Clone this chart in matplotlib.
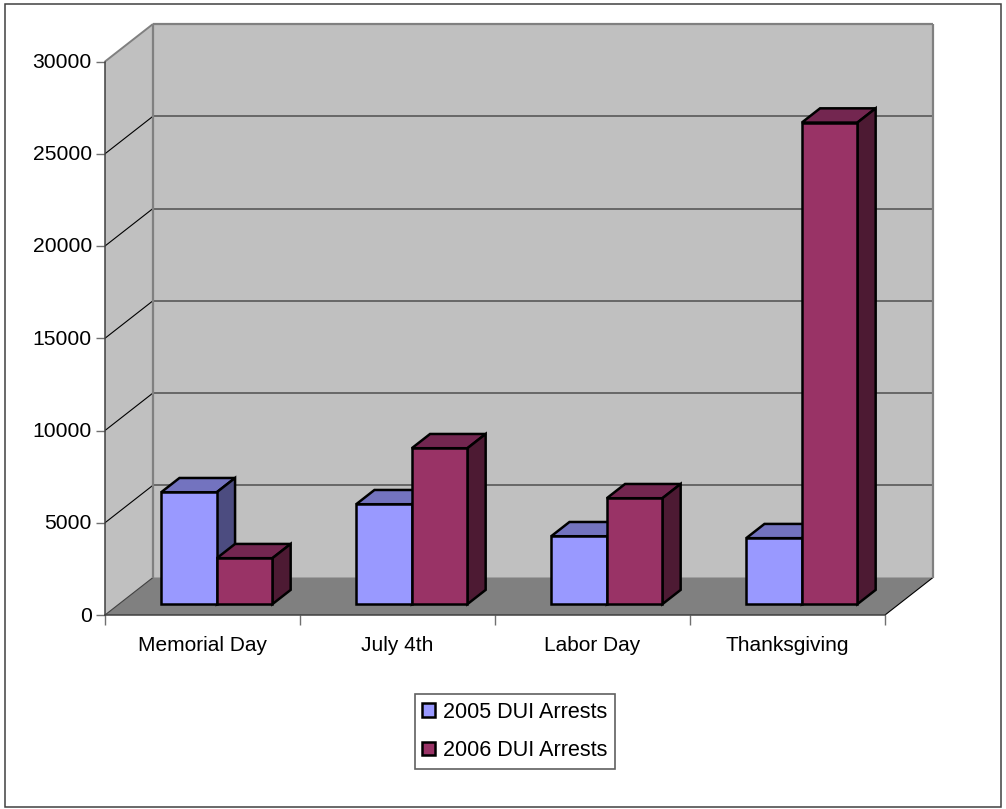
import matplotlib
matplotlib.use("Agg")
import matplotlib.pyplot as plt
from matplotlib.patches import Polygon, Rectangle, Patch
from matplotlib.transforms import ScaledTranslation

plt.rcParams['font.family'] = ['Liberation Sans', 'DejaVu Sans']

categories = ["Memorial Day", "July 4th", "Labor Day", "Thanksgiving"]
arrests_2005 = [6065, 5415, 3680, 3575]
arrests_2006 = [2490, 8450, 5740, 26100]
y_ticks = [0, 5000, 10000, 15000, 20000, 25000, 30000]
series_names = ["2005 DUI Arrests", "2006 DUI Arrests"]

W, H = 1006, 809
fig = plt.figure(figsize=(W / 100, H / 100), dpi=100, facecolor="white")
fig.add_artist(Rectangle((5 / W, 1 - 807 / H), 996 / W, 803 / H, transform=fig.transFigure,
                         fill=False, ec="#404040", lw=1.1))

ax = fig.add_axes([105 / W, 1 - 615 / H, 780 / W, 553.5 / H])
ax.set_xlim(0, 4)
ax.set_ylim(0, 30000)
ax.patch.set_visible(False)

px_x = 4 / 780
px_y = 30000 / 553.5
DEPTH_X = 48 * px_x
DEPTH_Y = 37.5 * px_y


def P(x, y, d=0.0):
    """Oblique projection: a point at depth d (0 front, 1 back wall)."""
    return (x + d * DEPTH_X, y + d * DEPTH_Y)


def poly(points, fc, ec="none", lw=0.0, z=1):
    ax.add_patch(Polygon(points, closed=True, fc=fc, ec=ec, lw=lw, zorder=z, clip_on=False,
                         joinstyle="miter"))


def line(a, b, color, lw, z=2):
    ax.plot([a[0], b[0]], [a[1], b[1]], color=color, lw=lw, zorder=z, clip_on=False,
            solid_capstyle="butt")


# walls and floor
WALL, FLOOR = "#C0C0C0", "#808080"
poly([P(0, 0), P(0, 30000), P(0, 30000, 1), P(0, 0, 1)], WALL)
poly([P(0, 0, 1), P(0, 30000, 1), P(4, 30000, 1), P(4, 0, 1)], WALL)
poly([P(0, 0), P(0, 0, 1), P(4, 0, 1), P(4, 0)], FLOOR)

for v in y_ticks[1:-1]:
    line(P(0, v, 1), P(4, v, 1), "#606060", 1.3)
    line(P(0, v), P(0, v, 1), "black", 0.8)
line(P(0, 0), P(0, 0, 1), "#404040", 0.8)
line(P(4, 0), P(4, 0, 1), "black", 0.8)
line(P(0, 30000), P(0, 30000, 1), "#808080", 1.4)
line(P(0, 30000, 1), P(4, 30000, 1), "#808080", 1.6)
line(P(0, 0, 1), P(0, 30000, 1), "#808080", 1.6)
line(P(4, 0, 1), P(4, 30000, 1), "#808080", 1.6)

# bars
BAR_W = 55.6 * px_x
BAR_SHIFT = 0.4 * px_x
D0, D1 = 0.29, 0.67
series = [
    (arrests_2005, -1, "#9999FF", "#7373BF", "#4C4C80"),
    (arrests_2006, 0, "#993366", "#732650", "#4D1A33"),
]
EDGE = dict(ec="black", lw=1.8)
for i in range(len(categories)):
    for vals, off, front, top, side in series:
        x0 = i + 0.5 + off * BAR_W + BAR_SHIFT
        x1 = x0 + BAR_W
        h = vals[i]
        poly([P(x0, h, D0), P(x1, h, D0), P(x1, h, D1), P(x0, h, D1)], top, z=3, **EDGE)
        poly([P(x1, 0, D0), P(x1, h, D0), P(x1, h, D1), P(x1, 0, D1)], side, z=3, **EDGE)
        poly([P(x0, 0, D0), P(x1, 0, D0), P(x1, h, D0), P(x0, h, D0)], front, z=3, **EDGE)

# axes
for s in ("top", "right"):
    ax.spines[s].set_visible(False)
for s in ("left", "bottom"):
    ax.spines[s].set_color("#404040")
    ax.spines[s].set_linewidth(1.1)
    ax.spines[s].set_zorder(5)
ax.set_yticks(y_ticks)
ax.set_yticklabels([str(v) for v in y_ticks])
ax.tick_params(axis="y", length=6.5, width=1.0, color="#707070", pad=3, labelsize=15.2, labelcolor="black")
ax.set_xticks(range(5))
ax.set_xticklabels([])
ax.tick_params(axis="x", which="major", length=7, width=1.0, color="#707070")
ax.set_xticks([i + 0.5 for i in range(4)], minor=True)
ax.set_xticklabels(categories, minor=True)
ax.tick_params(axis="x", which="minor", length=0, pad=15, labelsize=15.0, labelcolor="black")

up = ScaledTranslation(0, 1 / 100, fig.dpi_scale_trans)
for lab in ax.get_yticklabels():
    lab.set_transform(lab.get_transform() + up)

# legend
handles = [Patch(fc=series[0][2], ec="black", lw=1.8), Patch(fc=series[1][2], ec="black", lw=1.8)]
leg = fig.legend(handles, series_names, loc="center",
                 bbox_to_anchor=(515 / W, 1 - 731.5 / H), fontsize=15.5,
                 frameon=True, fancybox=False, framealpha=1, edgecolor="#606060",
                 handlelength=0.57, handleheight=0.57, handletextpad=0.4,
                 labelspacing=0.82, borderpad=0.34, borderaxespad=0)
leg.get_frame().set_linewidth(1.2)

fig.savefig("out.png", dpi=100, facecolor="white")
